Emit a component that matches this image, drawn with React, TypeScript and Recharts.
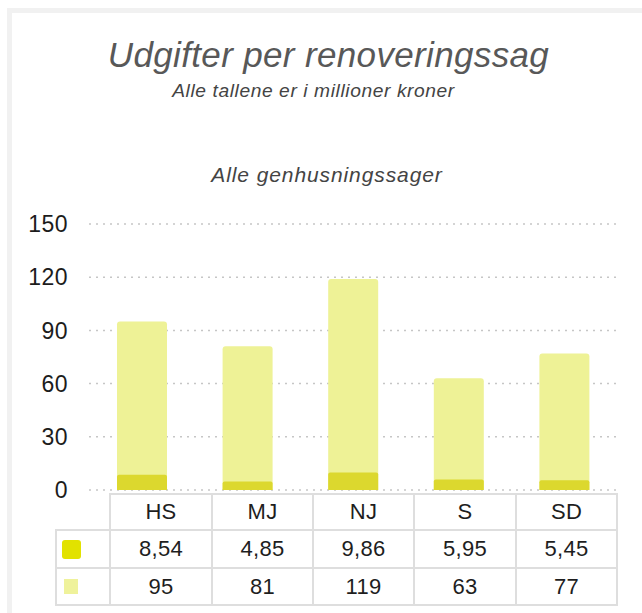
import { Bar, BarChart, CartesianGrid, XAxis, YAxis } from "recharts";

const categories = ["HS", "MJ", "NJ", "S", "SD"];
const darkValues = [8.54, 4.85, 9.86, 5.95, 5.45];
const lightValues = [95, 81, 119, 63, 77];
const yTicks = [0, 30, 60, 90, 120, 150];

const DARK = "#dcd82e";
const LIGHT = "#eef296";
const FONT = "'Liberation Sans', Arial, sans-serif";

const data = categories.map((name, i) => ({
  name,
  dark: darkValues[i],
  light: lightValues[i],
}));

const fmt = (v: number) => String(v).replace(".", ",");

const cell: React.CSSProperties = {
  border: "2px solid #dedede",
  textAlign: "center",
  padding: 0,
  fontSize: 22,
  letterSpacing: 0.3,
  color: "#1e1e1e",
};

export default function App() {
  return (
    <div
      style={{
        position: "absolute",
        left: 0,
        top: 0,
        width: 642,
        height: 613,
        background: "#fff",
        overflow: "hidden",
        fontFamily: FONT,
      }}
    >
      {/* panel frame */}
      <div
        style={{
          position: "absolute",
          left: 7,
          top: 8,
          width: 640,
          height: 610,
          borderTop: "5px solid #f1f1f1",
          borderLeft: "5px solid #f1f1f1",
        }}
      />

      {/* titles */}
      <svg
        width={642}
        height={200}
        style={{ position: "absolute", left: 0, top: 0 }}
      >
        <text
          x={328.5}
          y={66.7}
          textAnchor="middle"
          fontSize={35}
          fontStyle="italic"
          fill="#585858"
          fontFamily={FONT}
          style={{ letterSpacing: 0.35 }}
        >
          Udgifter per renoveringssag
        </text>
        <text
          x={313.5}
          y={96.7}
          textAnchor="middle"
          fontSize={19.2}
          fontStyle="italic"
          fill="#444"
          fontFamily={FONT}
          style={{ letterSpacing: 0.6 }}
        >
          Alle tallene er i millioner kroner
        </text>
        <text
          x={327}
          y={182.3}
          textAnchor="middle"
          fontSize={21}
          fontStyle="italic"
          fill="#444"
          fontFamily={FONT}
          style={{ letterSpacing: 0.9 }}
        >
          Alle genhusningssager
        </text>
      </svg>

      <div style={{ position: "absolute", left: 0, top: 0 }}>
        <BarChart
          width={642}
          height={510}
          data={data}
          margin={{ top: 224, right: 25, bottom: 20, left: 0 }}
          barSize={50}
          barGap={-50}
        >
          <CartesianGrid
            vertical={false}
            stroke="#c6c6c6"
            strokeWidth={1.5}
            strokeDasharray="2 5"
          />
          <XAxis dataKey="name" hide />
          <YAxis
            width={89}
            domain={[0, 150]}
            ticks={yTicks}
            interval={0}
            axisLine={false}
            tickLine={false}
            tickSize={0}
            tickMargin={21}
            tick={{ fontSize: 23, fill: "#1c1c1c", fontFamily: FONT, letterSpacing: 0.5 }}
          />
          <Bar
            dataKey="light"
            fill={LIGHT}
            radius={[3, 3, 0, 0]}
            isAnimationActive={false}
          />
          <Bar
            dataKey="dark"
            fill={DARK}
            radius={[2, 2, 0, 0]}
            isAnimationActive={false}
          />
        </BarChart>
      </div>

      {/* data table */}
      <table
        style={{
          position: "absolute",
          left: 55,
          top: 493,
          borderCollapse: "collapse",
          tableLayout: "fixed",
          fontFamily: FONT,
        }}
      >
        <colgroup>
          <col style={{ width: 54 }} />
          <col style={{ width: 102 }} />
          <col style={{ width: 101 }} />
          <col style={{ width: 101 }} />
          <col style={{ width: 102 }} />
          <col style={{ width: 101 }} />
        </colgroup>
        <tbody>
          <tr style={{ height: 36 }}>
            <td style={{ border: "none" }} />
            {categories.map((c) => (
              <td key={c} style={cell}>
                {c}
              </td>
            ))}
          </tr>
          <tr style={{ height: 38 }}>
            <td style={cell}>
              <div
                style={{
                  width: 19,
                  height: 19,
                  borderRadius: 3,
                  background: "#e2e200",
                  marginLeft: 5,
                }}
              />
            </td>
            {darkValues.map((v, i) => (
              <td key={i} style={cell}>
                {fmt(v)}
              </td>
            ))}
          </tr>
          <tr style={{ height: 37 }}>
            <td style={cell}>
              <div
                style={{
                  width: 14,
                  height: 15,
                  background: "#eff29b",
                  marginLeft: 7,
                }}
              />
            </td>
            {lightValues.map((v, i) => (
              <td key={i} style={cell}>
                {fmt(v)}
              </td>
            ))}
          </tr>
        </tbody>
      </table>
    </div>
  );
}
